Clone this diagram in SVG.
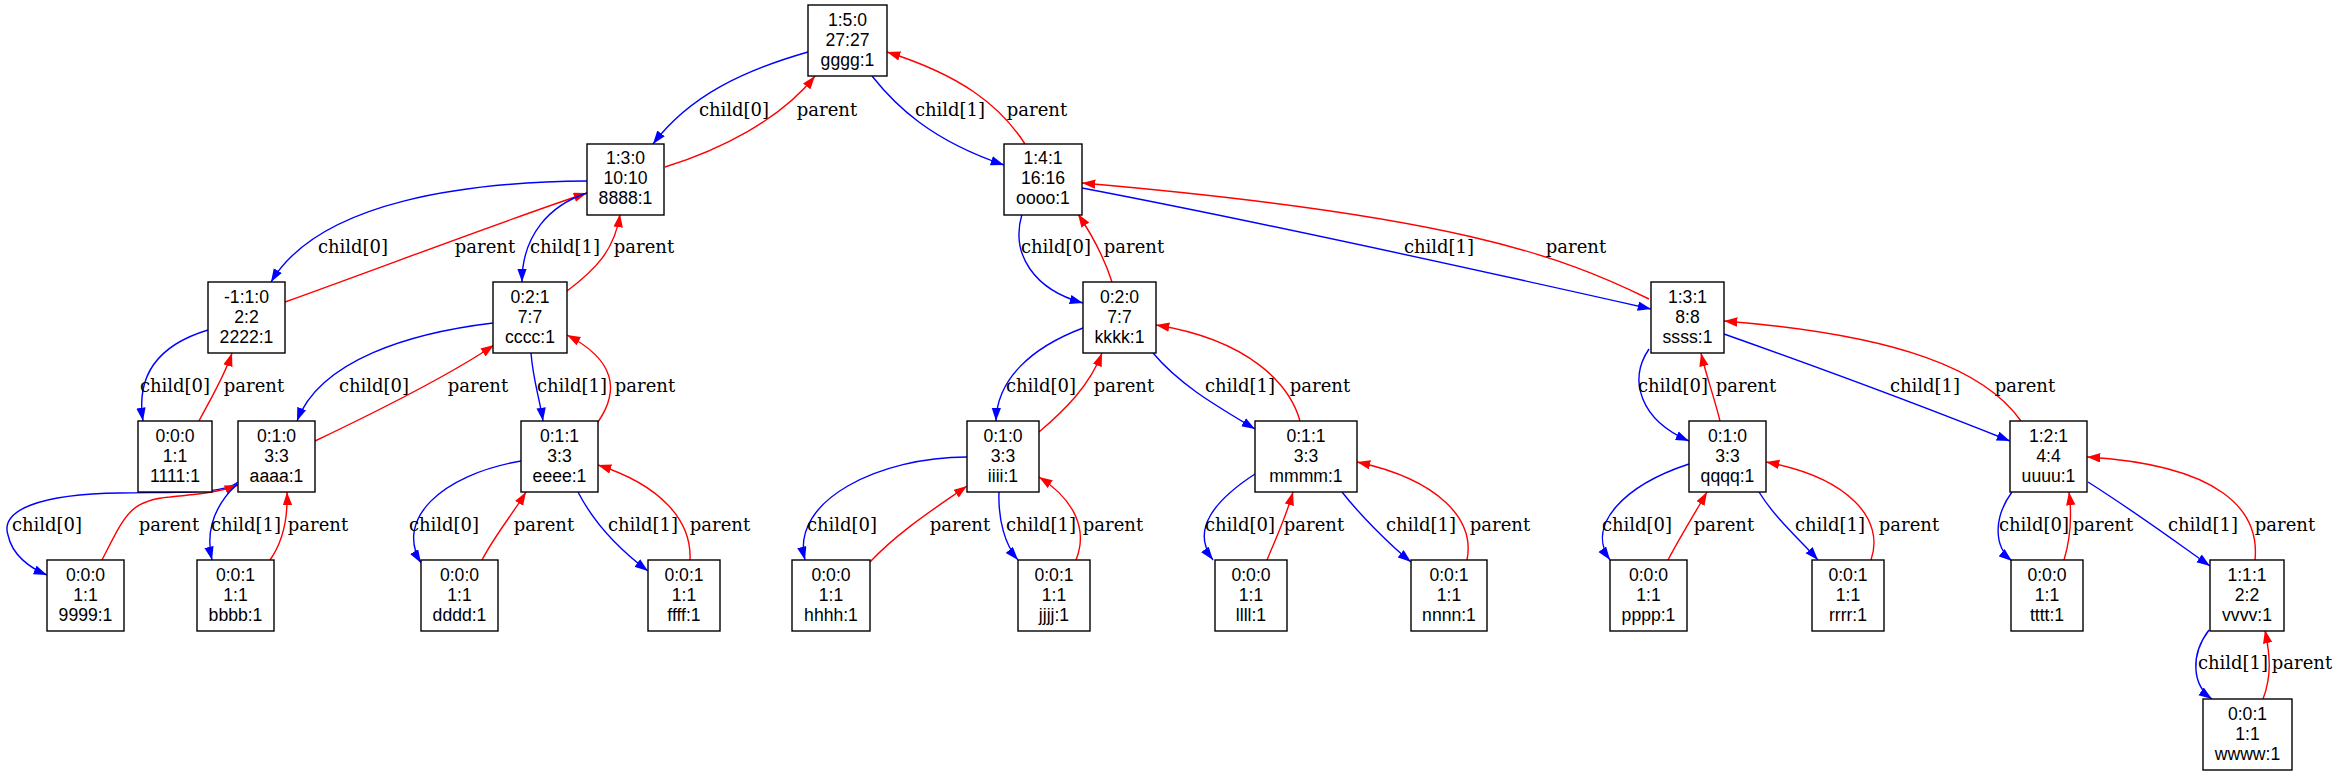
<svg xmlns="http://www.w3.org/2000/svg" width="2340" height="775" viewBox="0 0 2340 775">
<style>
.node rect{fill:#fff;stroke:#000;stroke-width:1.4}
.node text{font-family:"Liberation Sans",Arial,sans-serif;font-size:17.6px;text-anchor:middle;fill:#000}
.c{fill:none;stroke:#0000ff;stroke-width:1.4}
.p{fill:none;stroke:#ff0000;stroke-width:1.4}
.c.e{marker-end:url(#ab)}
.p.e{marker-end:url(#ar)}
.lbl{font-family:"DejaVu Serif","Liberation Serif",serif;font-size:18px;text-anchor:middle;fill:#000}
</style>
<defs>
<marker id="ab" markerUnits="userSpaceOnUse" markerWidth="14" markerHeight="10" refX="13.3" refY="4.7" orient="auto"><path d="M0,0 L13.3,4.7 L0,9.4 z" fill="#0000ff"/></marker>
<marker id="ar" markerUnits="userSpaceOnUse" markerWidth="14" markerHeight="10" refX="13.3" refY="4.7" orient="auto"><path d="M0,0 L13.3,4.7 L0,9.4 z" fill="#ff0000"/></marker>
</defs>
<rect width="2340" height="775" fill="#fff"/>
<g id="connectors">
<path class="c e" d="M808,52 C745,70 690,95 653,144"/>
<text class="lbl" x="734" y="116">child[0]</text>
<path class="p e" d="M665,167 C720,150 780,120 815,76"/>
<text class="lbl" x="827" y="116">parent</text>
<path class="c e" d="M872,76 C895,105 930,140 1004,165"/>
<text class="lbl" x="950" y="116">child[1]</text>
<path class="p e" d="M1025,144 C1000,105 960,75 887,52"/>
<text class="lbl" x="1037" y="116">parent</text>

<path class="c e" d="M587,181 C470,182 320,200 271,282"/>
<text class="lbl" x="353" y="253">child[0]</text>
<path class="p e" d="M285,302 C380,268 500,222 587,193"/>
<text class="lbl" x="485" y="253">parent</text>
<path class="c e" d="M587,193 C550,205 522,235 522,282"/>
<text class="lbl" x="565" y="253">child[1]</text>
<path class="p e" d="M567,291 C595,270 615,250 620,214"/>
<text class="lbl" x="644" y="253">parent</text>
<path class="c e" d="M1022,214 C1010,255 1035,290 1083,303"/>
<text class="lbl" x="1056" y="253">child[0]</text>
<path class="p e" d="M1112,282 C1105,260 1092,235 1078,214"/>
<text class="lbl" x="1134" y="253">parent</text>
<path class="c e" d="M1082,188 C1250,220 1500,275 1651,309"/>
<text class="lbl" x="1439" y="253">child[1]</text>
<path class="p e" d="M1649,299 C1560,255 1450,215 1082,183"/>
<text class="lbl" x="1576" y="253">parent</text>

<path class="c e" d="M208,330 C165,343 135,370 143,421"/>
<text class="lbl" x="175" y="392">child[0]</text>
<path class="p e" d="M199,421 C210,400 225,375 232,353"/>
<text class="lbl" x="254" y="392">parent</text>
<path class="c e" d="M493,323 C410,333 320,360 297,421"/>
<text class="lbl" x="374" y="392">child[0]</text>
<path class="p e" d="M315,441 C380,410 450,375 494,345"/>
<text class="lbl" x="478" y="392">parent</text>
<path class="c e" d="M531,353 C533,380 540,400 543,421"/>
<text class="lbl" x="572" y="392">child[1]</text>
<path class="p e" d="M598,422 C620,390 615,360 567,335"/>
<text class="lbl" x="645" y="392">parent</text>
<path class="c e" d="M1083,328 C1030,348 997,380 996,421"/>
<text class="lbl" x="1041" y="392">child[0]</text>
<path class="p e" d="M1039,432 C1065,410 1090,385 1102,353"/>
<text class="lbl" x="1124" y="392">parent</text>
<path class="c e" d="M1153,353 C1180,385 1215,405 1255,429"/>
<text class="lbl" x="1240" y="392">child[1]</text>
<path class="p e" d="M1300,421 C1290,385 1250,340 1156,325"/>
<text class="lbl" x="1320" y="392">parent</text>
<path class="c e" d="M1649,349 C1628,380 1640,420 1689,441"/>
<text class="lbl" x="1673" y="392">child[0]</text>
<path class="p e" d="M1720,421 C1715,400 1706,375 1701,353"/>
<text class="lbl" x="1746" y="392">parent</text>
<path class="c e" d="M1724,334 C1820,368 1920,405 2010,441"/>
<text class="lbl" x="1925" y="392">child[1]</text>
<path class="p e" d="M2021,421 C1985,370 1900,335 1724,321"/>
<text class="lbl" x="2025" y="392">parent</text>

<path class="c e" d="M238,482 C225,494 180,492 120,493 C40,494 0,510 8,535 C12,555 30,568 47,575"/>
<text class="lbl" x="47" y="531">child[0]</text>
<path class="p e" d="M102,560 C125,515 130,500 170,497 C200,494 220,492 238,485"/>
<text class="lbl" x="169" y="531">parent</text>
<path class="c e" d="M237,484 C215,505 205,530 212,560"/>
<text class="lbl" x="246" y="531">child[1]</text>
<path class="p e" d="M270,560 C282,543 288,520 287,492"/>
<text class="lbl" x="318" y="531">parent</text>
<path class="c e" d="M521,461 C440,475 395,520 421,563"/>
<text class="lbl" x="444" y="531">child[0]</text>
<path class="p e" d="M482,560 C495,535 512,515 526,492"/>
<text class="lbl" x="544" y="531">parent</text>
<path class="c e" d="M578,492 C595,525 620,550 648,571"/>
<text class="lbl" x="643" y="531">child[1]</text>
<path class="p e" d="M690,560 C692,520 660,485 598,465"/>
<text class="lbl" x="720" y="531">parent</text>
<path class="c e" d="M967,457 C880,457 790,500 805,560"/>
<text class="lbl" x="842" y="531">child[0]</text>
<path class="p e" d="M870,562 C900,530 940,505 967,486"/>
<text class="lbl" x="960" y="531">parent</text>
<path class="c e" d="M999,492 C998,520 1005,545 1018,560"/>
<text class="lbl" x="1041" y="531">child[1]</text>
<path class="p e" d="M1076,560 C1088,530 1075,500 1039,477"/>
<text class="lbl" x="1113" y="531">parent</text>
<path class="c e" d="M1255,474 C1215,500 1190,530 1213,560"/>
<text class="lbl" x="1240" y="531">child[0]</text>
<path class="p e" d="M1267,560 C1275,540 1285,520 1293,492"/>
<text class="lbl" x="1314" y="531">parent</text>
<path class="c e" d="M1342,492 C1360,515 1390,545 1411,562"/>
<text class="lbl" x="1421" y="531">child[1]</text>
<path class="p e" d="M1467,560 C1475,520 1440,480 1357,462"/>
<text class="lbl" x="1500" y="531">parent</text>
<path class="c e" d="M1689,464 C1625,485 1585,525 1610,560"/>
<text class="lbl" x="1637" y="531">child[0]</text>
<path class="p e" d="M1668,560 C1680,537 1695,513 1707,492"/>
<text class="lbl" x="1724" y="531">parent</text>
<path class="c e" d="M1759,492 C1775,518 1800,540 1818,560"/>
<text class="lbl" x="1830" y="531">child[1]</text>
<path class="p e" d="M1871,560 C1885,520 1850,478 1766,462"/>
<text class="lbl" x="1909" y="531">parent</text>
<path class="c e" d="M2012,492 C1995,515 1992,545 2012,561"/>
<text class="lbl" x="2034" y="531">child[0]</text>
<path class="p e" d="M2064,560 C2070,540 2072,515 2069,492"/>
<text class="lbl" x="2103" y="531">parent</text>
<path class="c e" d="M2088,482 C2140,515 2180,545 2210,566"/>
<text class="lbl" x="2203" y="531">child[1]</text>
<path class="p e" d="M2255,560 C2260,510 2220,465 2087,457"/>
<text class="lbl" x="2285" y="531">parent</text>

<path class="c e" d="M2209,630 C2190,655 2192,685 2212,699"/>
<text class="lbl" x="2233" y="669">child[1]</text>
<path class="p e" d="M2263,699 C2272,675 2270,655 2265,630"/>
<text class="lbl" x="2302" y="669">parent</text>
</g>

<g id="n_gggg" class="node"><rect x="808" y="5" width="79" height="71"/><text x="847.5" y="25.9">1:5:0<tspan x="847.5" dy="19.8">27:27</tspan><tspan x="847.5" dy="19.8">gggg:1</tspan></text></g>
<g id="n_8888" class="node"><rect x="587" y="144" width="77" height="71"/><text x="625.5" y="164.4">1:3:0<tspan x="625.5" dy="19.8">10:10</tspan><tspan x="625.5" dy="19.8">8888:1</tspan></text></g>
<g id="n_oooo" class="node"><rect x="1004" y="144" width="78" height="71"/><text x="1043" y="164.4">1:4:1<tspan x="1043" dy="19.8">16:16</tspan><tspan x="1043" dy="19.8">oooo:1</tspan></text></g>
<g id="n_2222" class="node"><rect x="208" y="282" width="77" height="71"/><text x="246.5" y="302.9">-1:1:0<tspan x="246.5" dy="19.8">2:2</tspan><tspan x="246.5" dy="19.8">2222:1</tspan></text></g>
<g id="n_cccc" class="node"><rect x="493" y="282" width="74" height="71"/><text x="530" y="302.9">0:2:1<tspan x="530" dy="19.8">7:7</tspan><tspan x="530" dy="19.8">cccc:1</tspan></text></g>
<g id="n_kkkk" class="node"><rect x="1083" y="282" width="73" height="71"/><text x="1119.5" y="302.9">0:2:0<tspan x="1119.5" dy="19.8">7:7</tspan><tspan x="1119.5" dy="19.8">kkkk:1</tspan></text></g>
<g id="n_ssss" class="node"><rect x="1651" y="282" width="73" height="71"/><text x="1687.5" y="302.9">1:3:1<tspan x="1687.5" dy="19.8">8:8</tspan><tspan x="1687.5" dy="19.8">ssss:1</tspan></text></g>
<g id="n_1111" class="node"><rect x="138" y="421" width="74" height="71"/><text x="175" y="441.9">0:0:0<tspan x="175" dy="19.8">1:1</tspan><tspan x="175" dy="19.8">1111:1</tspan></text></g>
<g id="n_aaaa" class="node"><rect x="238" y="421" width="77" height="71"/><text x="276.5" y="441.9">0:1:0<tspan x="276.5" dy="19.8">3:3</tspan><tspan x="276.5" dy="19.8">aaaa:1</tspan></text></g>
<g id="n_eeee" class="node"><rect x="521" y="421" width="77" height="71"/><text x="559.5" y="441.9">0:1:1<tspan x="559.5" dy="19.8">3:3</tspan><tspan x="559.5" dy="19.8">eeee:1</tspan></text></g>
<g id="n_iiii" class="node"><rect x="967" y="421" width="72" height="71"/><text x="1003" y="441.9">0:1:0<tspan x="1003" dy="19.8">3:3</tspan><tspan x="1003" dy="19.8">iiii:1</tspan></text></g>
<g id="n_mmmm" class="node"><rect x="1255" y="421" width="102" height="71"/><text x="1306" y="441.9">0:1:1<tspan x="1306" dy="19.8">3:3</tspan><tspan x="1306" dy="19.8">mmmm:1</tspan></text></g>
<g id="n_qqqq" class="node"><rect x="1689" y="421" width="77" height="71"/><text x="1727.5" y="441.9">0:1:0<tspan x="1727.5" dy="19.8">3:3</tspan><tspan x="1727.5" dy="19.8">qqqq:1</tspan></text></g>
<g id="n_uuuu" class="node"><rect x="2010" y="421" width="77" height="71"/><text x="2048.5" y="441.9">1:2:1<tspan x="2048.5" dy="19.8">4:4</tspan><tspan x="2048.5" dy="19.8">uuuu:1</tspan></text></g>
<g id="n_9999" class="node"><rect x="47" y="560" width="77" height="71"/><text x="85.5" y="580.9">0:0:0<tspan x="85.5" dy="19.8">1:1</tspan><tspan x="85.5" dy="19.8">9999:1</tspan></text></g>
<g id="n_bbbb" class="node"><rect x="197" y="560" width="77" height="71"/><text x="235.5" y="580.9">0:0:1<tspan x="235.5" dy="19.8">1:1</tspan><tspan x="235.5" dy="19.8">bbbb:1</tspan></text></g>
<g id="n_dddd" class="node"><rect x="421" y="560" width="77" height="71"/><text x="459.5" y="580.9">0:0:0<tspan x="459.5" dy="19.8">1:1</tspan><tspan x="459.5" dy="19.8">dddd:1</tspan></text></g>
<g id="n_ffff" class="node"><rect x="648" y="560" width="72" height="71"/><text x="684" y="580.9">0:0:1<tspan x="684" dy="19.8">1:1</tspan><tspan x="684" dy="19.8">ffff:1</tspan></text></g>
<g id="n_hhhh" class="node"><rect x="792" y="560" width="78" height="71"/><text x="831" y="580.9">0:0:0<tspan x="831" dy="19.8">1:1</tspan><tspan x="831" dy="19.8">hhhh:1</tspan></text></g>
<g id="n_jjjj" class="node"><rect x="1018" y="560" width="72" height="71"/><text x="1054" y="580.9">0:0:1<tspan x="1054" dy="19.8">1:1</tspan><tspan x="1054" dy="19.8">jjjj:1</tspan></text></g>
<g id="n_llll" class="node"><rect x="1215" y="560" width="72" height="71"/><text x="1251" y="580.9">0:0:0<tspan x="1251" dy="19.8">1:1</tspan><tspan x="1251" dy="19.8">llll:1</tspan></text></g>
<g id="n_nnnn" class="node"><rect x="1411" y="560" width="76" height="71"/><text x="1449" y="580.9">0:0:1<tspan x="1449" dy="19.8">1:1</tspan><tspan x="1449" dy="19.8">nnnn:1</tspan></text></g>
<g id="n_pppp" class="node"><rect x="1610" y="560" width="77" height="71"/><text x="1648.5" y="580.9">0:0:0<tspan x="1648.5" dy="19.8">1:1</tspan><tspan x="1648.5" dy="19.8">pppp:1</tspan></text></g>
<g id="n_rrrr" class="node"><rect x="1812" y="560" width="72" height="71"/><text x="1848" y="580.9">0:0:1<tspan x="1848" dy="19.8">1:1</tspan><tspan x="1848" dy="19.8">rrrr:1</tspan></text></g>
<g id="n_tttt" class="node"><rect x="2011" y="560" width="72" height="71"/><text x="2047" y="580.9">0:0:0<tspan x="2047" dy="19.8">1:1</tspan><tspan x="2047" dy="19.8">tttt:1</tspan></text></g>
<g id="n_vvvv" class="node"><rect x="2210" y="560" width="74" height="71"/><text x="2247" y="580.9">1:1:1<tspan x="2247" dy="19.8">2:2</tspan><tspan x="2247" dy="19.8">vvvv:1</tspan></text></g>
<g id="n_wwww" class="node"><rect x="2203" y="699" width="89" height="71"/><text x="2247.5" y="719.9">0:0:1<tspan x="2247.5" dy="19.8">1:1</tspan><tspan x="2247.5" dy="19.8">wwww:1</tspan></text></g>
</svg>
